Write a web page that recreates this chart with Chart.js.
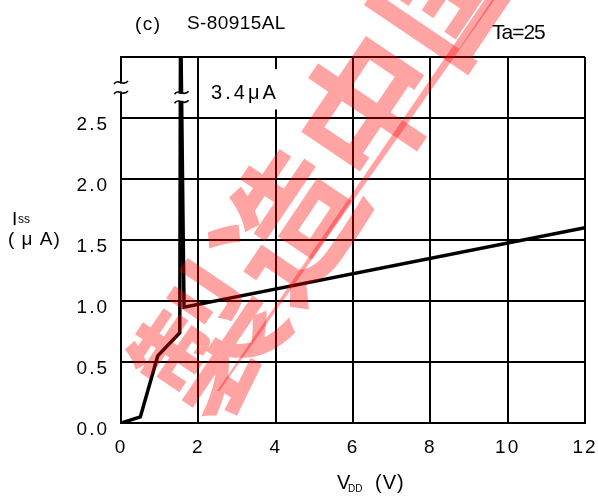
<!DOCTYPE html>
<html>
<head>
<meta charset="utf-8">
<script src="https://cdn.jsdelivr.net/npm/chart.js@4/dist/chart.umd.min.js"></script>
<style>
  html, body { margin: 0; padding: 0; background: #fff; }
  canvas { display: block; }
</style>
</head>
<body>
<canvas id="iss-chart" width="598" height="497"></canvas>
<script>
// S-80915AL: supply current Iss vs. supply voltage VDD, Ta=25
const vddVolts = [0, 0.5, 0.95, 1.52, 1.54, 1.63, 12];
const issMicroAmps = [0, 0.05, 0.55, 0.74, 3.4, 0.95, 1.6];
const xTickValues = [0, 2, 4, 6, 8, 10, 12];
const yTickValues = [0, 0.5, 1.0, 1.5, 2.0, 2.5, 3.0];

const PEAK = 4; // index of the off-scale spike
const FONT = '"Liberation Sans", Arial, sans-serif';

function drawText(ctx, text, x, y, size, spacing = 0, align = 'left') {
    ctx.save();
    ctx.font = `${size}px ${FONT}`;
    ctx.fillStyle = '#000';
    ctx.textAlign = align;
    ctx.textBaseline = 'alphabetic';
    ctx.letterSpacing = spacing + 'px';
    ctx.fillText(text, x, y);
    ctx.restore();
}

// two stacked tildes with a white gap between them (axis break)
function drawBreak(ctx, x, y, gap) {
    ctx.save();
    ctx.fillStyle = '#fff';
    ctx.fillRect(x - 6, y - gap / 2 + 1, 12, gap - 2);
    ctx.strokeStyle = '#000';
    ctx.lineWidth = 1.6;
    [-gap / 2, gap / 2].forEach(dy => {
        ctx.beginPath();
        ctx.moveTo(x - 7, y + dy + 1.5);
        ctx.bezierCurveTo(x - 3, y + dy - 5, x + 2, y + dy + 5, x + 7, y + dy - 1.5);
        ctx.stroke();
    });
    ctx.restore();
}

const decorations = {
    id: 'decorations',
    beforeDraw(chart) {
        chart.ctx.letterSpacing = '2px';
    },
    beforeDatasetsDraw(chart) {
        chart.ctx.letterSpacing = '0px';
    },
    afterDraw(chart) {
        const ctx = chart.ctx;
        const xs = chart.scales.x;
        const ys = chart.scales.y;
        ctx.letterSpacing = '0px';

        // break marks on the left axis and on the spike
        drawBreak(ctx, xs.getPixelForValue(0), ys.getPixelForValue(2.75), 10);
        drawBreak(ctx, xs.getPixelForValue(vddVolts[PEAK]) + 1, ys.getPixelForValue(2.67), 9);

        // peak value label, on a white patch that interrupts the x=4 grid line
        ctx.save();
        ctx.fillStyle = '#fff';
        const top = ys.getPixelForValue(2.9);
        const bottom = ys.getPixelForValue(2.57);
        ctx.fillRect(xs.getPixelForValue(2.25), top, xs.getPixelForValue(4.15) - xs.getPixelForValue(2.25), bottom - top);
        ctx.restore();
        drawText(ctx, issMicroAmps[PEAK].toFixed(1) + 'μA', xs.getPixelForValue(2.33), ys.getPixelForValue(2.656), 20, 3);

        // titles
        drawText(ctx, '(c)', 135, 30, 19, 1.5);
        drawText(ctx, 'S-80915AL', 187, 29, 19, 0.4);
        drawText(ctx, 'Ta=25', 492, 39, 21, -1);

        // y axis title
        drawText(ctx, 'I', 12, 225, 19);
        drawText(ctx, 'ss', 18, 223, 12);
        drawText(ctx, '( μ A)', 8, 245, 19, 1);

        // x axis title
        drawText(ctx, 'V', 337, 489, 20);
        drawText(ctx, 'DD', 348, 492, 10);
        drawText(ctx, '(V)', 375, 489, 20, 1);

        // watermark
        ctx.save();
        ctx.fillStyle = 'rgba(255, 0, 0, 0.36)';
        ctx.beginPath();
        ctx.moveTo(217, 391);
        ctx.lineTo(219.5, 391);
        ctx.lineTo(500, -8);
        ctx.lineTo(490, -8);
        ctx.closePath();
        ctx.fill();
        ctx.translate(328, 166);
        ctx.rotate(-56 * Math.PI / 180);
        ctx.font = 'bold 140px "Noto Sans CJK JP"';
        ctx.letterSpacing = '2px';
        ctx.textAlign = 'center';
        ctx.textBaseline = 'middle';
        ctx.fillText('製造中国', 1, 0);
        ctx.restore();
    }
};

new Chart(document.getElementById('iss-chart'), {
    type: 'scatter',
    data: {
        datasets: [{
            data: vddVolts.map((v, i) => ({ x: v, y: issMicroAmps[i] })),
            showLine: true,
            borderColor: '#000',
            borderWidth: 3.5,
            pointRadius: 0,
            tension: 0
        }]
    },
    options: {
        responsive: false,
        animation: false,
        layout: { padding: { top: 57, right: 13, left: 0, bottom: 0 } },
        plugins: { legend: { display: false }, tooltip: { enabled: false } },
        scales: {
            x: {
                type: 'linear',
                min: 0,
                max: 12,
                afterBuildTicks: s => { s.ticks = xTickValues.map(v => ({ value: v })); },
                afterFit: s => { s.height = 74; s.paddingLeft = 0; s.paddingRight = 0; },
                grid: { color: '#000', lineWidth: 2, drawTicks: false },
                border: { display: true, color: '#000', width: 2 },
                ticks: {
                    color: '#000',
                    padding: 13,
                    maxRotation: 0,
                    font: { family: FONT, size: 19 },
                    callback: v => String(v)
                }
            },
            y: {
                type: 'linear',
                min: 0,
                max: 3,
                afterBuildTicks: s => { s.ticks = yTickValues.map(v => ({ value: v })); },
                afterFit: s => { s.width = 121; s.paddingTop = 0; s.paddingBottom = 0; },
                grid: { color: '#000', lineWidth: 2, drawTicks: false },
                border: { display: true, color: '#000', width: 2 },
                ticks: {
                    color: '#000',
                    padding: 12,
                    labelOffset: 7,
                    font: { family: FONT, size: 19 },
                    callback: v => (v >= 3 ? '' : v.toFixed(1))
                }
            }
        }
    },
    plugins: [decorations]
});
</script>
</body>
</html>
